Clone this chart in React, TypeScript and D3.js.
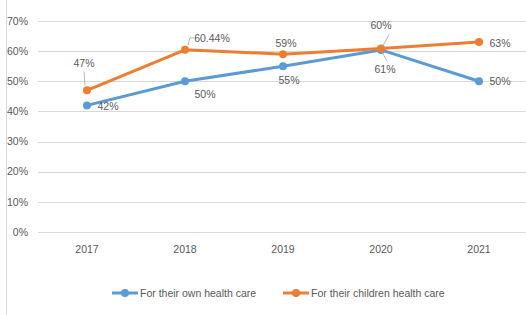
import * as d3 from "d3"

const years = ["2017", "2018", "2019", "2020", "2021"]
const ownCare = [42, 50, 55, 60.4, 50]
const childrenCare = [47, 60.44, 59, 60.9, 63]
const ownLabels = ["42%", "50%", "55%", "61%", "50%"]
const childrenLabels = ["47%", "60.44%", "59%", "60%", "63%"]
const yTicks = [0, 10, 20, 30, 40, 50, 60, 70]

const W = 526
const H = 315
const BLUE = "#5b9bd5"
const ORANGE = "#ed7d31"
const TEXT = "#595959"
const FONT = "'Liberation Sans', Arial, sans-serif"

// Excel put each data label by hand; offsets from the point (dx, dy to label center)
const ownOffsets: Array<[number, number]> = [
  [21, 1],
  [20, 13],
  [6, 14],
  [4, 19],
  [21, 0],
]
const childrenOffsets: Array<[number, number]> = [
  [-3, -27],
  [27, -11],
  [3, -11],
  [0, -23],
  [21, 1],
]
// leader lines (only where Excel drew them), point-relative
const leaders: Array<{ series: "own" | "children"; i: number; pts: Array<[number, number]> }> = [
  { series: "children", i: 0, pts: [[-2, -5], [-3, -19]] },
  { series: "children", i: 1, pts: [[3, -5], [5, -12], [9, -12]] },
  { series: "children", i: 3, pts: [[1, -1], [8, -14]] },
  { series: "own", i: 3, pts: [[1, 2], [6, 11]] },
]

export default function App() {
  const x = d3.scaleBand<string>().domain(years).range([38, 528])
  const y = d3.scaleLinear().domain([0, 70]).range([232, 21])
  const cx = (yr: string) => (x(yr) ?? 0) + x.bandwidth() / 2

  const line = d3
    .line<number>()
    .x((_, i) => cx(years[i]))
    .y((v) => y(v))

  const series = [
    { key: "own", values: ownCare, labels: ownLabels, offsets: ownOffsets, color: BLUE, name: "For their own health care" },
    { key: "children", values: childrenCare, labels: childrenLabels, offsets: childrenOffsets, color: ORANGE, name: "For their children health care" },
  ]

  return (
    <div style={{ position: "fixed", left: 0, top: 0, background: "#fff" }}>
      <svg width={W} height={H} style={{ display: "block" }} fontFamily={FONT}>
        <rect width={W} height={H} fill="#fff" />
        <line x1={6.5} x2={6.5} y1={0} y2={H} stroke="#d9d9d9" />

        {/* gridlines + y labels */}
        {yTicks.map((t) => (
          <g key={t}>
            <line
              x1={38}
              x2={W}
              y1={Math.round(y(t)) + 0.5}
              y2={Math.round(y(t)) + 0.5}
              stroke="#d9d9d9"
              strokeWidth={1}
            />
            <text x={28} y={y(t)} dy="0.35em" textAnchor="end" fontSize={10.5} fill={TEXT}>
              {t}%
            </text>
          </g>
        ))}

        {/* x labels */}
        {years.map((yr) => (
          <text key={yr} x={cx(yr)} y={249} dy="0.35em" textAnchor="middle" fontSize={10.5} fill={TEXT}>
            {yr}
          </text>
        ))}

        {/* series */}
        {series.map((s) => (
          <g key={s.key}>
            <path d={line(s.values) ?? undefined} fill="none" stroke={s.color} strokeWidth={3} strokeLinejoin="round" strokeLinecap="round" />
            {s.values.map((v, i) => (
              <circle key={i} cx={cx(years[i])} cy={y(v)} r={4} fill={s.color} />
            ))}
          </g>
        ))}

        {/* leader lines */}
        {leaders.map((l, k) => {
          const vals = l.series === "own" ? ownCare : childrenCare
          const px = cx(years[l.i])
          const py = y(vals[l.i])
          return (
            <polyline
              key={k}
              points={l.pts.map(([dx, dy]) => `${px + dx},${py + dy}`).join(" ")}
              fill="none"
              stroke="#a6a6a6"
              strokeWidth={0.8}
            />
          )
        })}

        {/* data labels */}
        {series.map((s) =>
          s.values.map((v, i) => (
            <text
              key={`${s.key}-${i}`}
              x={cx(years[i]) + s.offsets[i][0]}
              y={y(v) + s.offsets[i][1]}
              dy="0.35em"
              textAnchor="middle"
              fontSize={10.5}
              fill={TEXT}
            >
              {s.labels[i]}
            </text>
          ))
        )}

        {/* legend */}
        {series.map((s, k) => {
          const lx = k === 0 ? 112 : 283
          const ly = 293
          return (
            <g key={s.key} transform={`translate(${lx},${ly})`}>
              <line x1={0} x2={26} y1={0} y2={0} stroke={s.color} strokeWidth={3} />
              <circle cx={13} cy={0} r={4} fill={s.color} />
              <text x={28} y={0} dy="0.35em" fontSize={10.5} fill={TEXT}>
                {s.name}
              </text>
            </g>
          )
        })}
      </svg>
    </div>
  )
}
